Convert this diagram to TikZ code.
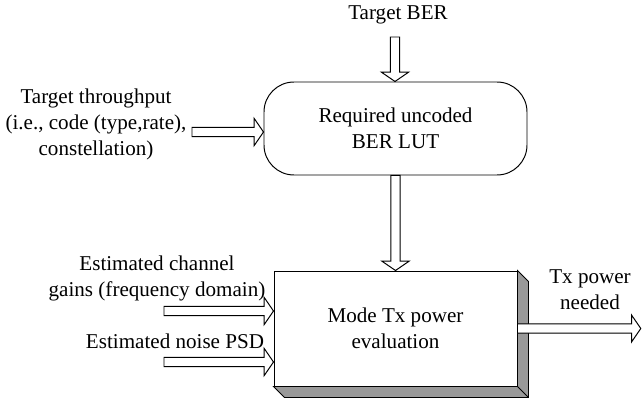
\documentclass[tikz,border=0pt]{standalone}
\usepackage{fontspec}
\setmainfont{Liberation Serif}
\usetikzlibrary{calc}
\tikzset{
  blk/.style={draw,line width=0.7pt,align=center},
  lbl/.style={align=center},
  blockarrow/.style={draw,fill=white,line width=0.7pt,
    to path={let \p1=(\tikztostart),\p2=(\tikztotarget),
      \n1={atan2(\y2-\y1,\x2-\x1)},\n2={veclen(\x2-\x1,\y2-\y1)-6.6pt} in
      ($(\p1)+({\n1+90}:3.3pt)$) -- ($(\p1)+(\n1:\n2)+({\n1+90}:3.3pt)$)
      -- ($(\p1)+(\n1:\n2)+({\n1+90}:9.6pt)$) -- (\p2)
      -- ($(\p1)+(\n1:\n2)+({\n1-90}:9.6pt)$) -- ($(\p1)+(\n1:\n2)+({\n1-90}:3.3pt)$)
      -- ($(\p1)+({\n1-90}:3.3pt)$) -- cycle}}
}
\begin{document}
\begin{tikzpicture}[every node/.style={font=\fontsize{15}{18.5}\selectfont}]
\useasboundingbox (0,0) rectangle (16.05,9.925);
% blocks
\node[blk,rounded corners=0.75cm,minimum width=6.575cm,minimum height=2.325cm] (lut) at (9.8875,6.7125) {Required uncoded\\BER LUT};
\node[blk,fill=white,minimum width=6.075cm,minimum height=2.875cm] (mode) at (9.8875,1.7125) {Mode Tx power\\evaluation};
\filldraw[line width=0.7pt,fill=gray!80] (mode.north east) -- ++(0.275,-0.275) -- ($(mode.south east)+(0.275,-0.275)$)
  -- ($(mode.south west)+(0.275,-0.275)$) -- (mode.south west) -- (mode.south east) -- cycle;
\draw[line width=0.7pt] (mode.south east) -- ++(0.275,-0.275);
% labels
\node[lbl] (ber) at (9.95,9.55) {Target BER};
\node[lbl] (thr) at (2.4,6.825) {Target throughput\\(i.e., code (type,rate),\\constellation)};
\node[lbl] (gain) at (3.925,2.975) {Estimated channel\\gains (frequency domain)};
\node[lbl] (psd) at (4.375,1.4) {Estimated noise PSD};
\node[lbl] (txp) at (14.75,2.675) {Tx power\\needed};
% arrows
\coordinate (ber-t) at (9.875,9.0);
\coordinate (thr-t) at (4.8,6.625);
\coordinate (gain-t) at (4.1,2.15);
\coordinate (psd-t) at (4.1,0.875);
\coordinate (out) at (16.02,1.7125);
\path[blockarrow] (ber-t) to (ber-t |- lut.north);
\path[blockarrow] (thr-t) to (thr-t -| lut.west);
\path[blockarrow] (lut.south) to (mode.north);
\path[blockarrow] (gain-t) to (gain-t -| mode.west);
\path[blockarrow] (psd-t) to (psd-t -| mode.west);
\path[blockarrow] (mode.east) to (out);
\end{tikzpicture}
\end{document}
